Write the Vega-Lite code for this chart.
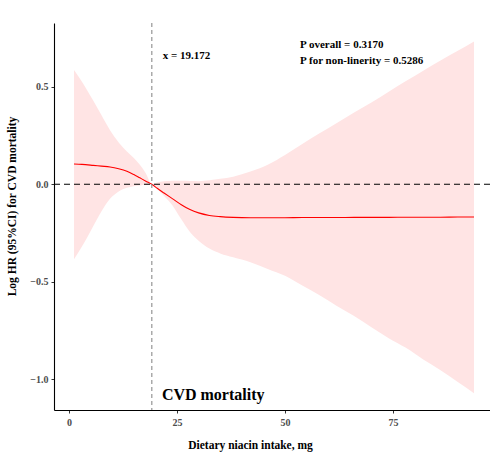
{
  "$schema": "https://vega.github.io/schema/vega-lite/v6.json",
  "width": 436,
  "height": 387,
  "autosize": {"type": "none"},
  "padding": {"left": 54, "top": 23, "right": 0, "bottom": 65},
  "background": "white",
  "config": {
    "view": {"stroke": null},
    "font": "Liberation Serif",
    "axis": {
      "grid": false,
      "domainColor": "black",
      "domainWidth": 1.1,
      "tickColor": "#333333",
      "tickSize": 3,
      "labelFont": "Liberation Serif",
      "labelFontSize": 10,
      "labelFontWeight": "bold",
      "labelColor": "#4D4D4D",
      "titleFont": "Liberation Serif",
      "titleFontSize": 11.5,
      "titleFontWeight": "bold",
      "titleColor": "black"
    }
  },
  "datasets": {
    "curve": [
      {"x": 1.16, "est": 0.104, "lo": -0.385, "hi": 0.587},
      {"x": 3, "est": 0.102, "lo": -0.32, "hi": 0.527},
      {"x": 5.6, "est": 0.097, "lo": -0.215, "hi": 0.43},
      {"x": 7.5, "est": 0.093, "lo": -0.14, "hi": 0.355},
      {"x": 9.5, "est": 0.089, "lo": -0.075, "hi": 0.277},
      {"x": 11.5, "est": 0.08, "lo": -0.037, "hi": 0.215},
      {"x": 13.4, "est": 0.067, "lo": -0.018, "hi": 0.168},
      {"x": 15, "est": 0.05, "lo": -0.01, "hi": 0.135},
      {"x": 16.4, "est": 0.033, "lo": -0.006, "hi": 0.1},
      {"x": 17.8, "est": 0.016, "lo": -0.003, "hi": 0.055},
      {"x": 19.172, "est": 0, "lo": 0, "hi": 0},
      {"x": 20.5, "est": -0.022, "lo": -0.025, "hi": 0.01},
      {"x": 22, "est": -0.045, "lo": -0.06, "hi": 0.015},
      {"x": 24, "est": -0.075, "lo": -0.11, "hi": 0.018},
      {"x": 26, "est": -0.105, "lo": -0.18, "hi": 0.018},
      {"x": 28, "est": -0.13, "lo": -0.245, "hi": 0.017},
      {"x": 30, "est": -0.147, "lo": -0.29, "hi": 0.016},
      {"x": 32.5, "est": -0.16, "lo": -0.33, "hi": 0.02},
      {"x": 35, "est": -0.166, "lo": -0.355, "hi": 0.028},
      {"x": 38, "est": -0.17, "lo": -0.375, "hi": 0.039},
      {"x": 42, "est": -0.172, "lo": -0.4, "hi": 0.065},
      {"x": 46, "est": -0.172, "lo": -0.435, "hi": 0.1},
      {"x": 50, "est": -0.172, "lo": -0.47, "hi": 0.15},
      {"x": 54, "est": -0.171, "lo": -0.52, "hi": 0.207},
      {"x": 58, "est": -0.171, "lo": -0.57, "hi": 0.262},
      {"x": 62, "est": -0.171, "lo": -0.625, "hi": 0.315},
      {"x": 66, "est": -0.17, "lo": -0.677, "hi": 0.368},
      {"x": 70, "est": -0.17, "lo": -0.734, "hi": 0.42},
      {"x": 74, "est": -0.17, "lo": -0.79, "hi": 0.475},
      {"x": 78, "est": -0.169, "lo": -0.84, "hi": 0.53},
      {"x": 82, "est": -0.169, "lo": -0.9, "hi": 0.583},
      {"x": 86, "est": -0.169, "lo": -0.955, "hi": 0.636},
      {"x": 90, "est": -0.168, "lo": -1.015, "hi": 0.685},
      {"x": 93.75, "est": -0.168, "lo": -1.073, "hi": 0.733}
    ]
  },
  "layer": [
    {
      "data": {"name": "curve"},
      "mark": {"type": "area", "color": "#FFE4E4", "opacity": 1, "interpolate": "monotone"},
      "encoding": {
        "x": {
          "field": "x",
          "type": "quantitative",
          "title": "Dietary niacin intake, mg",
          "scale": {"domain": [-3.47, 97.45], "nice": false, "zero": false},
          "axis": {"values": [0, 25, 50, 75], "labelPadding": 4, "titlePadding": 12, "titleX": 196}
        },
        "y": {
          "field": "lo",
          "type": "quantitative",
          "title": "Log HR (95%CI) for CVD mortality",
          "scale": {"domain": [-1.159, 0.828], "nice": false, "zero": false},
          "axis": {"values": [-1, -0.5, 0, 0.5], "format": ".1f", "labelPadding": 3, "titlePadding": 12, "titleY": 183}
        },
        "y2": {"field": "hi"}
      }
    },
    {
      "data": {"name": "curve"},
      "mark": {"type": "line", "color": "#FF0000", "strokeWidth": 1.1, "interpolate": "monotone"},
      "encoding": {
        "x": {"field": "x", "type": "quantitative"},
        "y": {"field": "est", "type": "quantitative"}
      }
    },
    {
      "data": {"values": [{"y": 0}]},
      "mark": {"type": "rule", "color": "black", "strokeDash": [6, 4], "strokeWidth": 1.1},
      "encoding": {"y": {"field": "y", "type": "quantitative"}}
    },
    {
      "data": {"values": [{"x": 19.172}]},
      "mark": {"type": "rule", "color": "#8C8C8C", "strokeDash": [4, 3], "strokeWidth": 1.1},
      "encoding": {"x": {"field": "x", "type": "quantitative"}}
    },
    {
      "data": {"values": [
        {"x": 21.7, "y": 0.659, "label": "x = 19.172"},
        {"x": 53.5, "y": 0.715, "label": "P overall = 0.3170"},
        {"x": 53.5, "y": 0.633, "label": "P for non-linerity = 0.5286"}
      ]},
      "mark": {"type": "text", "align": "left", "baseline": "middle", "fontSize": 11, "fontWeight": "bold", "font": "Liberation Serif", "color": "black"},
      "encoding": {
        "x": {"field": "x", "type": "quantitative"},
        "y": {"field": "y", "type": "quantitative"},
        "text": {"field": "label"}
      }
    },
    {
      "data": {"values": [{"x": 21.5, "y": -1.082, "label": "CVD mortality"}]},
      "mark": {"type": "text", "align": "left", "baseline": "middle", "fontSize": 16, "fontWeight": "bold", "font": "Liberation Serif", "color": "black"},
      "encoding": {
        "x": {"field": "x", "type": "quantitative"},
        "y": {"field": "y", "type": "quantitative"},
        "text": {"field": "label"}
      }
    }
  ]
}
